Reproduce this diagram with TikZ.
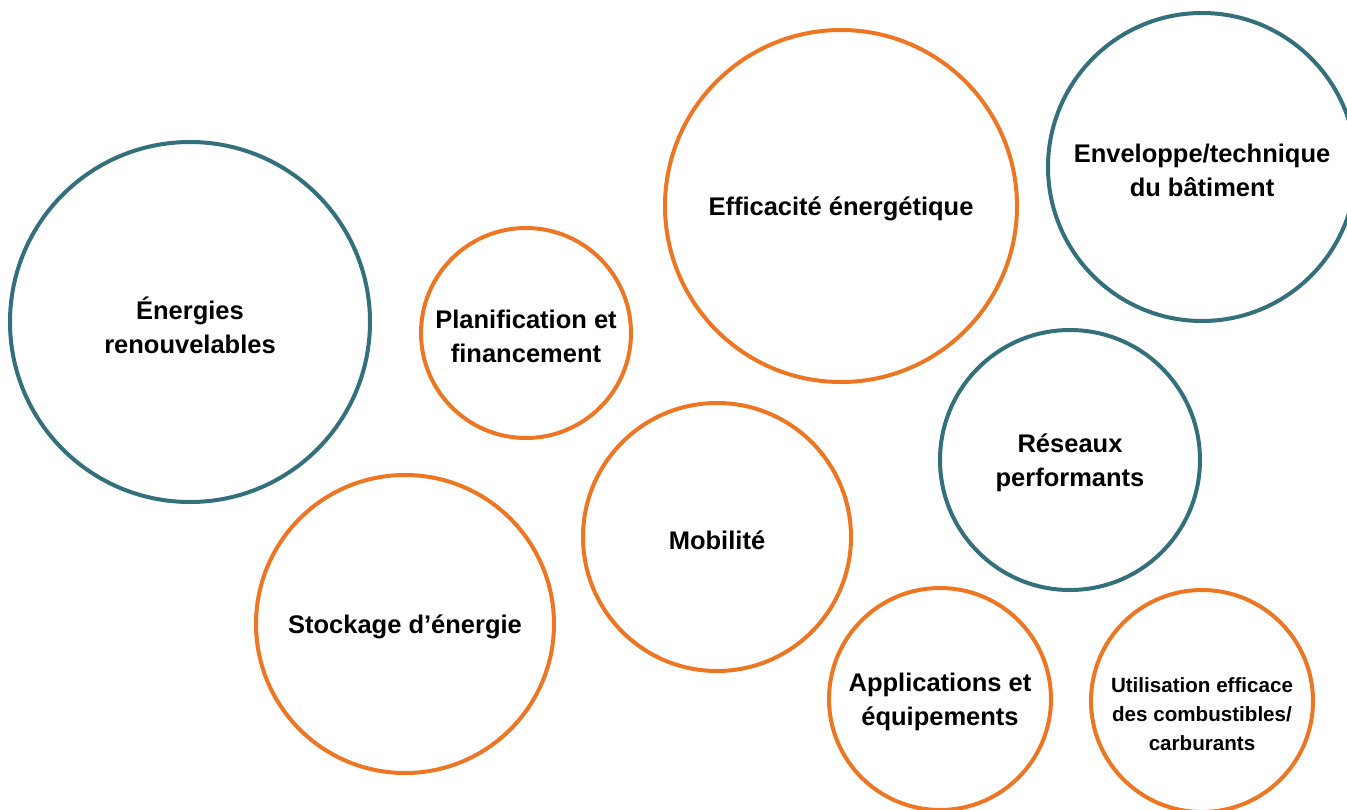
\documentclass[tikz,border=0pt]{standalone}
\usepackage{fontspec}
\setmainfont{Liberation Sans}
\definecolor{teal}{HTML}{346F7C}
\definecolor{orng}{HTML}{EE7623}
\begin{document}
\begin{tikzpicture}[x=1pt,y=-1pt,
  bubble/.style={circle,draw,line width=4pt,inner sep=0pt},
  tealb/.style={bubble,draw=teal},
  orb/.style={bubble,draw=orng},
  txt/.style={align=center,inner sep=0pt,yshift=-3pt,font=\bfseries\fontsize{25.5}{34}\selectfont},
  small/.style={align=center,inner sep=0pt,yshift=-13pt,font=\bfseries\fontsize{20.6}{29}\selectfont}]
\useasboundingbox (0,0) rectangle (1347,809);
\clip (0,0) rectangle (1347,809);
\node[tealb,minimum size=360pt,label={[txt]center:Énergies\\renouvelables}] (ener) at (190,322) {};
\node[orb,minimum size=210pt,label={[txt]center:Planification et\\financement}] (plan) at (526,333) {};
\node[orb,minimum size=352pt,label={[txt]center:Efficacité énergétique}] (eff) at (841,206) {};
\node[tealb,minimum size=308pt,label={[txt]center:Enveloppe/technique\\du bâtiment}] (env) at (1202,167) {};
\node[tealb,minimum size=260pt,label={[txt]center:Réseaux\\performants}] (res) at (1070,460) {};
\node[orb,minimum size=268pt,label={[txt]center:Mobilité}] (mob) at (717,537) {};
\node[orb,minimum size=298pt,label={[txt]center:Stockage d’énergie}] (stock) at (405,624) {};
\node[orb,minimum size=222pt,label={[txt]center:Applications et\\équipements}] (app) at (940,699) {};
\node[orb,minimum size=222pt,label={[small]center:Utilisation efficace\\des combustibles/\\carburants}] (util) at (1202,701) {};
\end{tikzpicture}
\end{document}
